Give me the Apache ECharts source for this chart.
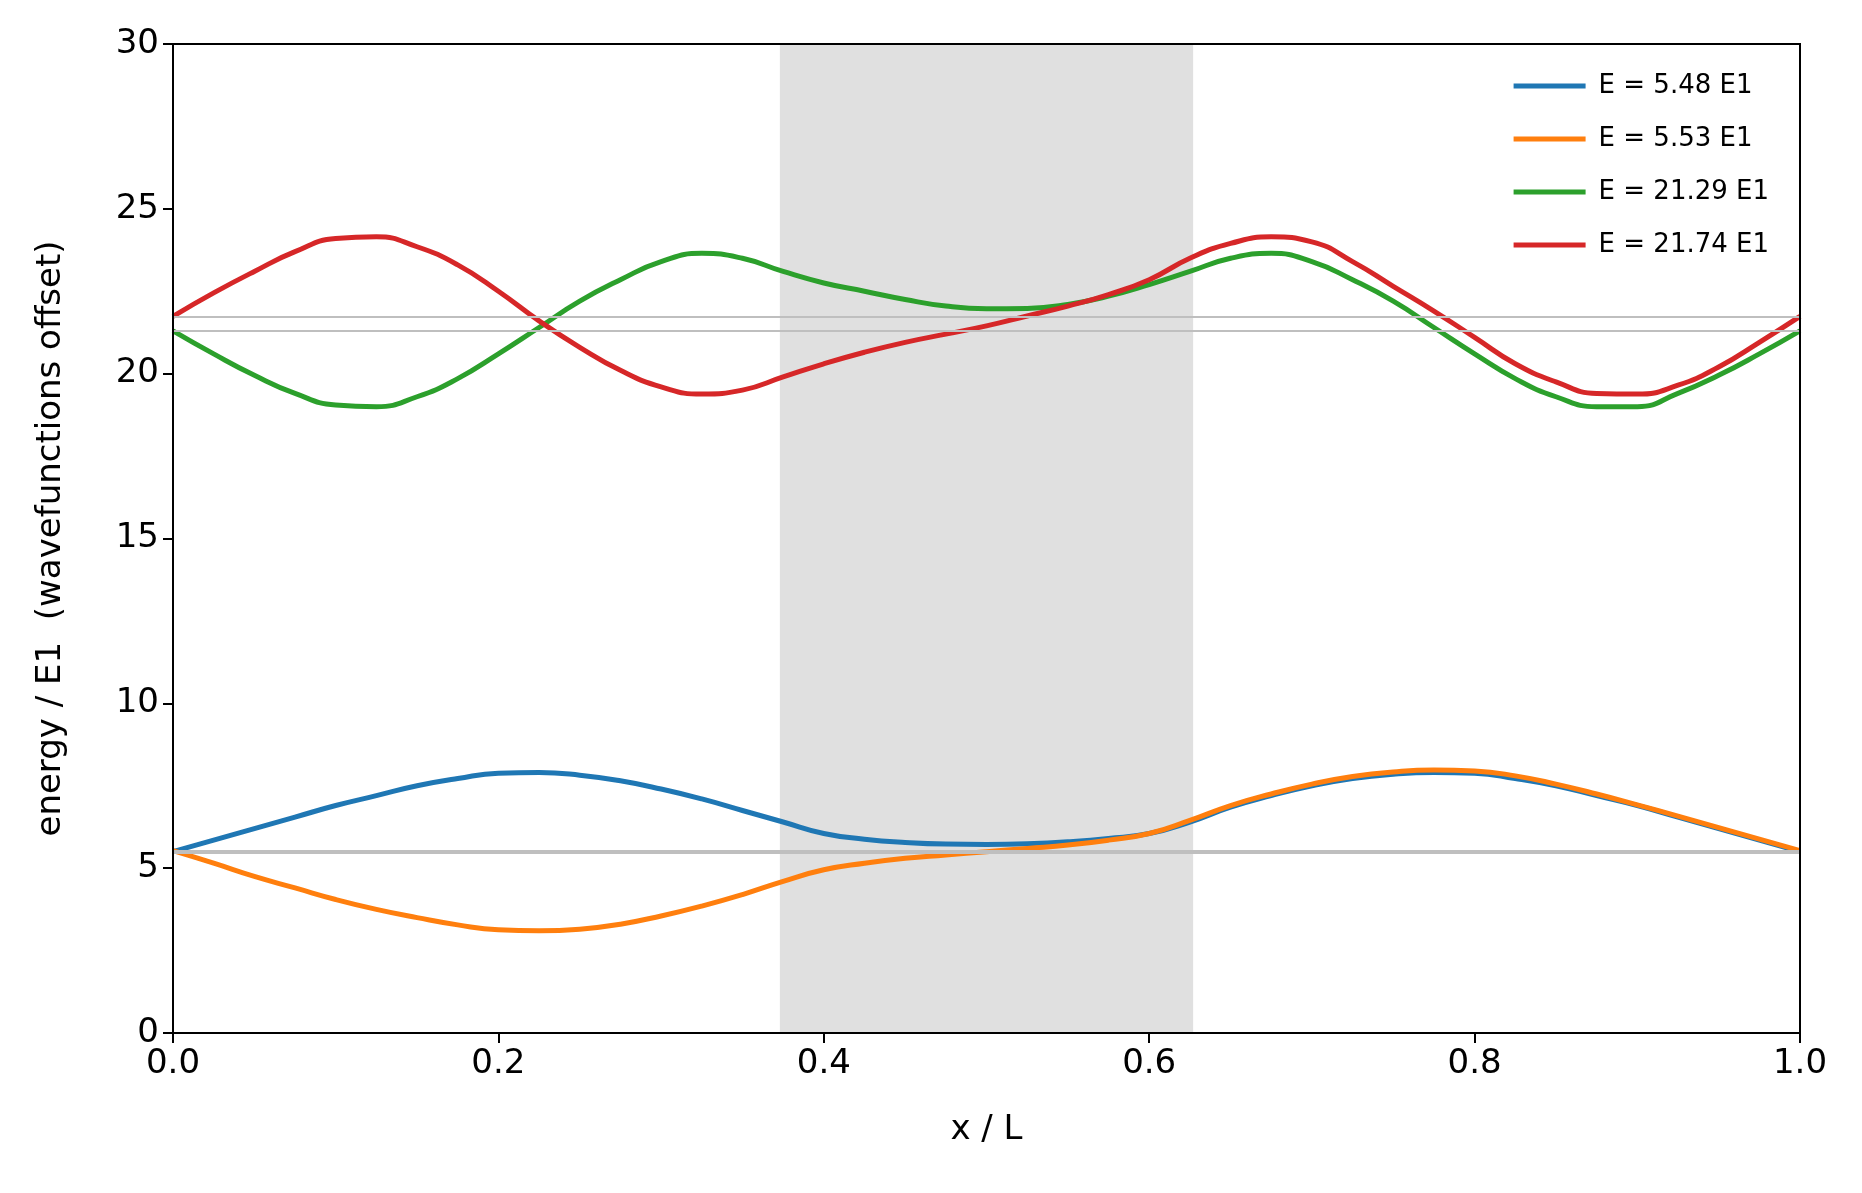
<!DOCTYPE html><html><head><meta charset="utf-8">
<script src="https://cdn.jsdelivr.net/npm/echarts@6/dist/echarts.min.js"></script>
<style>html,body{margin:0;background:#fff}#c{width:1862px;height:1193px}</style></head><body><div id="c"></div>
<script>
const xs=[0,.025,.05,.075,.1,.125,.15,.175,.2,.225,.25,.275,.3,.325,.35,.375,.4,.425,.45,.475,.5,.525,.55,.575,.6,.625,.65,.675,.7,.725,.75,.775,.8,.825,.85,.875,.9,.925,.95,.975,1];
const blue=[5.5,5.85,6.2,6.55,6.9,7.2,7.5,7.72,7.88,7.9,7.82,7.65,7.4,7.1,6.75,6.4,6.05,5.88,5.78,5.73,5.72,5.74,5.8,5.9,6.05,6.4,6.85,7.2,7.5,7.72,7.85,7.9,7.88,7.72,7.5,7.2,6.9,6.55,6.2,5.85,5.5];
const orange=[5.53,5.15,4.75,4.4,4.05,3.75,3.5,3.28,3.13,3.1,3.15,3.3,3.55,3.85,4.2,4.6,4.95,5.15,5.3,5.4,5.5,5.6,5.7,5.85,6.05,6.45,6.9,7.25,7.55,7.78,7.92,7.98,7.95,7.8,7.55,7.25,6.92,6.58,6.23,5.88,5.53];
const green=[21.3,20.6,19.95,19.4,19.05,19.0,19.3,19.85,20.6,21.4,22.2,22.85,23.4,23.65,23.5,23.1,22.75,22.5,22.25,22.05,21.97,21.98,22.1,22.35,22.7,23.1,23.5,23.65,23.4,22.85,22.2,21.4,20.6,19.85,19.3,19.0,19.0,19.4,19.95,20.6,21.3];
const red=[21.74,22.45,23.1,23.7,24.1,24.15,23.85,23.3,22.5,21.6,20.8,20.1,19.6,19.38,19.5,19.9,20.3,20.65,20.95,21.2,21.45,21.75,22.05,22.4,22.85,23.5,23.95,24.15,24.0,23.4,22.65,21.9,21.1,20.3,19.75,19.4,19.38,19.65,20.2,20.95,21.74];
const energies=[5.48,5.53,21.29,21.74];
const names=['E = 5.48 E1','E = 5.53 E1','E = 21.29 E1','E = 21.74 E1'];
const colors=['#1f77b4','#ff7f0e','#2ca02c','#d62728'];
const barrier=[0.373,0.627];
const F='DejaVu Sans';
const chart=echarts.init(document.getElementById('c'));
const mk=a=>xs.map((x,i)=>[x,a[i]]);
const series=[blue,orange,green,red].map((d,i)=>({name:names[i],type:'line',data:mk(d),smooth:0.5,showSymbol:false,lineStyle:{width:5,color:colors[i]},itemStyle:{color:colors[i]},z:3}));
series.unshift({type:'line',data:[],z:1,silent:true,
 markArea:{silent:true,itemStyle:{color:'#e0e0e0'},data:[[{xAxis:barrier[0]},{xAxis:barrier[1]}]]},
 markLine:{silent:true,symbol:'none',label:{show:false},lineStyle:{color:'#bfbfbf',width:2,type:'solid'},data:energies.map(e=>({yAxis:e}))}});
const L=173,R=62,T=44,B=160;
chart.setOption({animation:false,
 grid:{left:L,right:R,top:T,bottom:B},
 legend:{right:88,top:68,orient:'vertical',itemGap:27,itemWidth:72,itemHeight:5,data:names.map(n=>({name:n,icon:'rect'})),textStyle:{fontFamily:F,fontSize:26,color:'#000',padding:[0,0,0,8]}},
 xAxis:{type:'value',min:0,max:1,interval:0.2,name:'x / L',nameLocation:'middle',nameGap:80,nameTextStyle:{fontFamily:F,fontSize:34,color:'#000'},
  axisLine:{onZero:false,lineStyle:{color:'#000',width:2}},axisTick:{length:10,lineStyle:{width:2}},splitLine:{show:false},
  axisLabel:{fontFamily:F,fontSize:34,color:'#000',margin:14,formatter:v=>v.toFixed(1)}},
 yAxis:{type:'value',min:0,max:30,interval:5,name:'energy / E1  (wavefunctions offset)',nameLocation:'middle',nameGap:105,nameTextStyle:{fontFamily:F,fontSize:34,color:'#000'},
  axisLine:{lineStyle:{color:'#000',width:2}},axisTick:{length:10,lineStyle:{width:2}},splitLine:{show:false},
  axisLabel:{fontFamily:F,fontSize:34,color:'#000',margin:14}},
 graphic:[{type:'rect',shape:{x:L,y:T,width:1862-L-R,height:1193-T-B},style:{fill:'none',stroke:'#000',lineWidth:2},z:100}],
 series});
</script></body></html>
